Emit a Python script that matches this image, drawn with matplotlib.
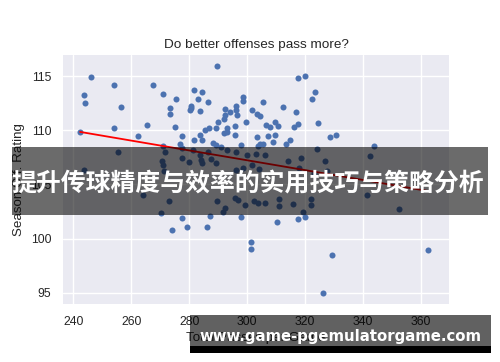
import matplotlib
matplotlib.use('Agg')
import matplotlib.pyplot as plt
from matplotlib.patches import Rectangle

# total passes per game vs season offensive rating
passes = [
    242.4, 243.6, 244.0, 246.0, 254.2, 256.6, 254.0, 262.3, 265.4, 267.4,
    270.9, 275.3, 273.3, 273.3, 275.1, 277.4, 277.0, 270.9, 281.6, 284.4,
    283.0, 286.6, 280.8, 280.5, 280.2, 283.9, 289.5, 281.5, 283.7, 285.3,
    286.9, 289.4, 290.0, 292.4, 294.0, 292.3, 292.0, 292.9, 293.2, 292.0,
    295.8, 295.8, 298.5, 298.4, 296.2, 296.1, 296.4, 299.7, 301.7, 303.3,
    304.4, 305.5, 303.3, 306.4, 307.8, 309.7, 310.6, 307.2, 309.6, 312.3,
    316.7, 316.1, 317.6, 314.8, 313.5, 317.7, 320.1, 323.3, 322.5, 324.5,
    328.5, 330.6, 343.7, 305.5, 304.4, 303.6, 309.0, 298.0, 288.3, 289.2,
    291.1, 284.6,
    255.3, 243.9, 270.8, 271.0, 271.4, 271.5, 277.7, 277.6, 279.8, 281.4,
    283.7, 284.0, 286.6, 287.7, 289.1, 292.9, 296.3, 299.8, 303.2, 306.1,
    314.1, 318.7, 317.9, 324.1, 296.3, 298.6, 301.5, 304.1, 326.8, 327.6,
    342.2, 322.9, 284.4,
    264.2, 272.9, 270.2, 289.5, 291.6, 292.2, 295.8, 296.9, 299.4, 302.2,
    303.9, 306.3, 310.9, 311.0, 315.8, 319.4, 322.0, 322.1, 341.4, 352.2,
    274.0, 277.7, 279.1, 286.1, 287.3, 297.8, 301.4, 301.4, 310.2, 317.7,
    320.1, 326.3, 329.1, 362.2,
]
rating = [
    109.85, 113.28, 112.56, 114.95, 114.19, 112.18, 110.17, 109.46, 110.46, 114.19,
    113.37, 112.87, 112.08, 111.48, 110.26, 109.46, 108.74, 108.56, 113.76, 113.56,
    112.87, 112.58, 112.24, 112.03, 111.83, 111.78, 115.95, 109.08, 109.53, 110.03,
    110.22, 110.19, 110.72, 111.98, 111.66, 111.39, 111.00, 110.24, 109.88, 109.73,
    110.40, 109.53, 113.05, 112.67, 112.24, 111.87, 111.37, 110.79, 111.89, 111.50,
    111.35, 112.65, 109.39, 110.46, 110.29, 110.74, 110.40, 109.50, 109.57, 112.18,
    111.69, 110.34, 110.57, 109.07, 108.76, 114.84, 115.05, 113.56, 112.87, 110.69,
    109.37, 109.59, 108.58, 108.70, 108.74, 108.54, 108.96, 108.62, 108.85, 108.61,
    108.50, 109.11,
    107.96, 106.35, 107.18, 106.79, 106.26, 107.98, 108.33, 107.47, 107.07, 108.19,
    107.73, 107.27, 107.98, 107.36, 106.97, 108.19, 107.98, 107.69, 107.78, 107.70,
    107.18, 107.48, 106.56, 108.26, 106.35, 106.56, 106.75, 106.44, 107.18, 106.20,
    107.67, 106.05, 106.97,
    103.99, 103.45, 102.38, 103.44, 102.46, 102.86, 103.75, 103.59, 103.07, 103.47,
    103.25, 103.29, 103.64, 102.98, 103.16, 102.46, 103.07, 103.67, 103.99, 102.76,
    100.77, 101.86, 101.08, 101.08, 102.07, 101.98, 99.66, 99.06, 101.57, 101.77,
    101.98, 94.97, 98.47, 98.97,
]

# fitted trend line end points
fit_x = [242.4, 362.2]
fit_y = [109.85, 104.40]

plt.style.use('seaborn-v0_8-darkgrid')
plt.rcParams['font.family'] = ['Liberation Sans', 'DejaVu Sans']
plt.rcParams['text.color'] = '#262626'

fig = plt.figure(figsize=(5, 3.62), dpi=100)
ax = fig.add_axes([0.126, 0.16, 0.772, 0.688])

ax.scatter(passes, rating, s=19, color='#4C72B0', linewidths=0, zorder=3)
ax.plot(fit_x, fit_y, color='red', lw=1.3, zorder=4)

ax.set_xlim(236.5, 369.6)
ax.set_ylim(93.95, 116.95)
ax.set_xticks([240, 260, 280, 300, 320, 340, 360])
ax.set_yticks([95, 100, 105, 110, 115])
ax.tick_params(labelsize=8.8, colors='#262626', pad=8.5, length=0)
ax.grid(color='white', lw=1.0)

ax.set_title('Do better offenses pass more?', fontsize=9.7, pad=4.8)
ax.set_xlabel('Total Passes per Game', fontsize=9.6, labelpad=3)
ax.set_ylabel('Season Off. Rating', fontsize=9.6, labelpad=4)

# overlay banner and watermark seen on the picture
fig.patches.append(Rectangle((0.024, 0.406), 0.952, 0.188, transform=fig.transFigure,
                             facecolor='black', alpha=0.58, zorder=10))
fig.text(0.4945, 0.494, '提升传球精度与效率的实用技巧与策略分析', fontsize=17.9,
         fontweight='bold', color='white', ha='center', va='center',
         family=['Noto Sans CJK SC', 'DejaVu Sans'], zorder=11)

fig.patches.append(Rectangle((0.38, 0.0434), 0.602, 0.0876, transform=fig.transFigure,
                             facecolor='black', alpha=0.62, zorder=10))
fig.patches.append(Rectangle((0.38, 0.0257), 0.602, 0.0177, transform=fig.transFigure,
                             facecolor='black', zorder=10))
fig.text(0.681, 0.07, 'www.game-pgemulatorgame.com', fontsize=10.7, fontweight='bold',
         color='white', ha='center', va='center', family='DejaVu Sans', zorder=11)

fig.savefig('out.png', dpi=100)
